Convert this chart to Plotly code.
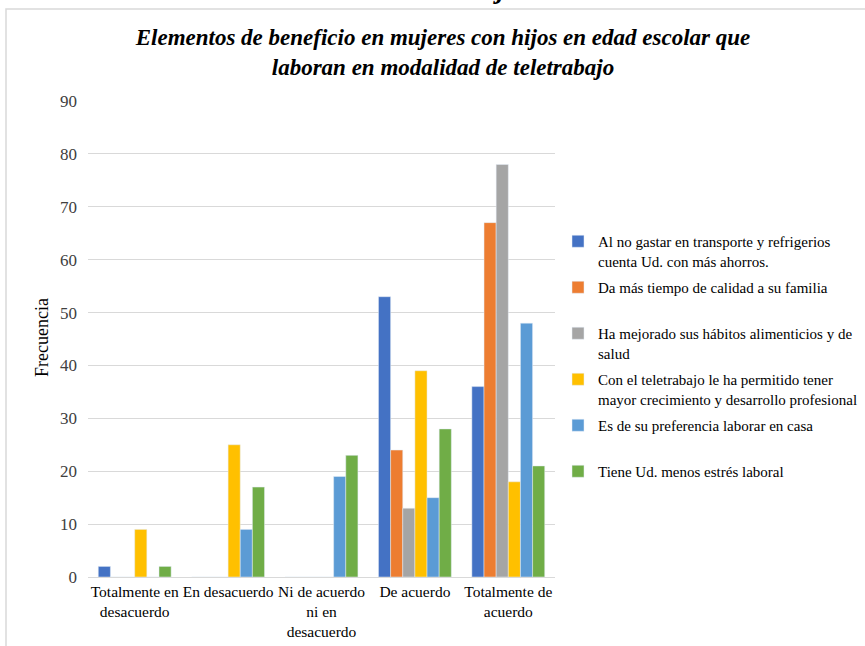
import plotly.graph_objects as go

categories = ["Totalmente en<br>desacuerdo", "En desacuerdo", "Ni de acuerdo<br>ni en<br>desacuerdo",
              "De acuerdo", "Totalmente de<br>acuerdo"]

series_names = [
    "Al no gastar en transporte y refrigerios<br>cuenta Ud. con más ahorros.",
    "Da más tiempo de calidad a su familia<br> ",
    "Ha mejorado sus hábitos alimenticios y de<br>salud",
    "Con el teletrabajo le ha permitido tener<br>mayor crecimiento y desarrollo profesional",
    "Es de su preferencia laborar en casa<br> ",
    "Tiene Ud. menos estrés laboral<br> ",
]

ahorros = [2, 0, 0, 53, 36]
familia = [0, 0, 0, 24, 67]
habitos = [0, 0, 0, 13, 78]
crecimiento = [9, 25, 0, 39, 18]
casa = [0, 9, 19, 15, 48]
estres = [2, 17, 23, 28, 21]

series_values = [ahorros, familia, habitos, crecimiento, casa, estres]
colors = ["#4472C4", "#ED7D31", "#A5A5A5", "#FFC000", "#5B9BD5", "#70AD47"]

fig = go.Figure()
for i, (name, vals, col) in enumerate(zip(series_names, series_values, colors)):
    fig.add_trace(go.Bar(x=categories, y=vals, name=name, marker_color=col,
                         legendgroup=f"g{i}"))

serif = "Liberation Serif"
L, T, B, R = 88, 101, 69, 310
PW = 865 - L - R
PH = 646 - T - B

def px_to_paper_x(px):
    return (px - L) / PW

def px_to_paper_y(py):
    return (646 - B - py) / PH

fig.update_layout(
    width=865, height=646,
    margin=dict(l=L, r=R, t=T, b=B, autoexpand=False),
    paper_bgcolor="white", plot_bgcolor="white",
    barmode="group", bargap=0.22, bargroupgap=0,
    font=dict(family=serif, size=16, color="#000000"),
    title=dict(
        text="<b><i>Elementos de beneficio en mujeres con hijos en edad escolar que<br>laboran en modalidad de teletrabajo</i></b>",
        x=443 / 865, xanchor="center", xref="container",
        y=1 - 45 / 646, yanchor="middle",
        font=dict(family=serif, size=23, color="#000000"),
    ),
    yaxis=dict(range=[0, 90], dtick=10, showgrid=True, gridcolor="#d9d9d9", gridwidth=1,
               zeroline=False, showline=False, ticks="", ticklabelstandoff=10, automargin=False,
               tickfont=dict(family=serif, size=17, color="#404040")),
    xaxis=dict(showline=True, linecolor="#d9d9d9", linewidth=1, ticks="", automargin=False,
               tickfont=dict(family=serif, size=15.5, color="#000000"), tickangle=0),
    legend=dict(x=px_to_paper_x(558), y=px_to_paper_y(225), xanchor="left", yanchor="top", valign="top",
                font=dict(family=serif, size=15, color="#000000"),
                tracegroupgap=4, itemwidth=30, bgcolor="rgba(0,0,0,0)"),
    showlegend=True,
)

# y-axis title
fig.add_annotation(text="Frecuencia", xref="paper", yref="paper", x=px_to_paper_x(42),
                   y=px_to_paper_y(338), xanchor="center", yanchor="middle", textangle=-90,
                   showarrow=False, font=dict(family=serif, size=18, color="#000000"))

# chart frame
fig.add_shape(type="rect", xref="paper", yref="paper",
              x0=px_to_paper_x(6), x1=px_to_paper_x(890), y0=px_to_paper_y(670), y1=px_to_paper_y(9),
              line=dict(color="#d9d9d9", width=1.5), fillcolor="rgba(0,0,0,0)", layer="below")

# clipped heading above the chart frame
fig.add_annotation(text="<b><i>Teletrabajo</i></b>", xref="paper", yref="paper", x=px_to_paper_x(454),
                   y=px_to_paper_y(6), xanchor="center", yanchor="bottom", showarrow=False,
                   font=dict(family=serif, size=28, color="#000000"))

fig.write_html("out.html", config={"displayModeBar": False},
               post_script="document.body.style.margin='0';document.body.style.padding='0';")
